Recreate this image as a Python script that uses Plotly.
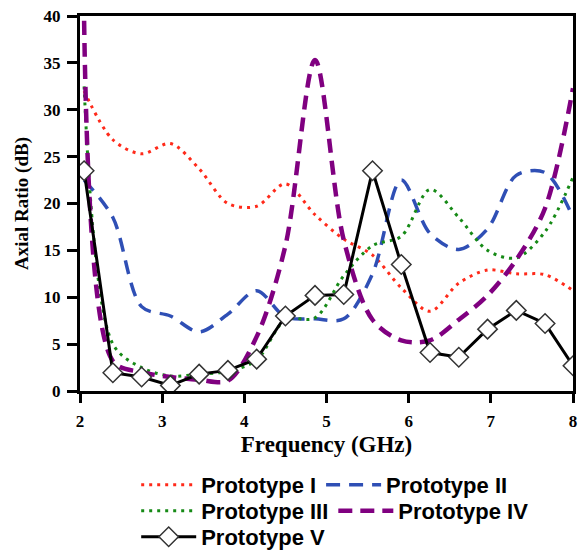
import plotly.graph_objects as go

freq = [2.05, 2.40, 2.75, 3.10, 3.45, 3.80, 4.15, 4.50, 4.86, 5.21,
        5.56, 5.91, 6.26, 6.61, 6.96, 7.31, 7.66, 8.00]

proto_1 = [32.0, 26.8, 25.3, 26.4, 23.7, 20.0, 19.7, 22.1, 18.8, 16.2,
           14.5, 11.0, 8.5, 11.5, 12.9, 12.5, 12.4, 10.7]
proto_2 = [22.5, 18.5, 9.0, 8.0, 6.3, 8.2, 10.7, 7.9, 7.7, 7.7,
           12.5, 22.5, 16.8, 15.1, 17.3, 23.0, 23.3, 18.5]
proto_3 = [32.5, 5.0, 2.5, 1.6, 1.8, 2.1, 3.3, 7.6, 7.8, 12.3,
           15.5, 16.5, 21.5, 18.5, 15.0, 14.2, 17.0, 22.8]
proto_4 = [39.5, 3.2, 2.0, 1.5, 1.2, 1.1, 5.8, 15.5, 35.3, 16.1,
           7.6, 5.4, 5.4, 7.6, 10.2, 14.0, 19.5, 32.3]
proto_5 = [23.5, 1.95, 1.5, 0.6, 1.8, 2.2, 3.4, 8.0, 10.2, 10.3,
           23.5, 13.5, 4.1, 3.6, 6.6, 8.6, 7.2, 2.7]

names = ["Prototype I", "Prototype II", "Prototype III", "Prototype IV", "Prototype V"]

fig = go.Figure()
fig.add_trace(go.Scatter(x=freq, y=proto_1, name=names[0], mode="lines", legend="legend",
                         line=dict(color="#FF2A1A", width=3, dash="3px,5px", shape="spline", smoothing=0.9)))
fig.add_trace(go.Scatter(x=freq, y=proto_2, name=names[1], mode="lines", legend="legend",
                         line=dict(color="#2F4FB5", width=3.5, dash="14px,9px", shape="spline", smoothing=0.9)))
fig.add_trace(go.Scatter(x=freq, y=proto_3, name=names[2], mode="lines", legend="legend2",
                         line=dict(color="#168A16", width=3, dash="3px,5px", shape="spline", smoothing=0.9)))
fig.add_trace(go.Scatter(x=freq, y=proto_4, name=names[3], mode="lines", legend="legend2",
                         line=dict(color="#800080", width=4.5, dash="14px,8px", shape="spline", smoothing=0.9)))
fig.add_trace(go.Scatter(x=freq, y=proto_5, name=names[4], mode="lines+markers", legend="legend3",
                         line=dict(color="black", width=3),
                         marker=dict(symbol="diamond", size=15, color="white",
                                     line=dict(color="#333333", width=1.5))))

serif = "Liberation Serif, Times New Roman, serif"
tick_font = dict(family=serif, size=17, color="black", weight="bold")
legend_font = dict(family="Liberation Sans, Arial, sans-serif", size=22, color="black", weight="bold")

def leg(y):
    return dict(orientation="h", xref="container", yref="container",
                x=0.234, xanchor="left", y=y, yanchor="middle",
                font=legend_font, bgcolor="rgba(0,0,0,0)", itemwidth=55,
                tracegroupgap=0)

fig.update_layout(
    width=582, height=556,
    margin=dict(l=80, r=9, t=16, b=165, autoexpand=False),
    plot_bgcolor="white", paper_bgcolor="white",
    showlegend=True,
    legend=leg(1 - 485 / 556),
    legend2=leg(1 - 511 / 556),
    legend3=leg(1 - 537 / 556),
    xaxis=dict(range=[2, 8], dtick=1, showgrid=False, zeroline=False, automargin=False,
               showline=True, linecolor="black", linewidth=3, mirror=True,
               ticks="outside", ticklen=9, tickwidth=3, tickcolor="black",
               tickfont=tick_font, ticklabelstandoff=4,
               title=dict(text="Frequency (GHz)", standoff=6,
                          font=dict(family=serif, size=23, color="black", weight="bold"))),
    yaxis=dict(range=[0, 40], dtick=5, showgrid=False, zeroline=False, automargin=False,
               showline=True, linecolor="black", linewidth=3, mirror=True,
               ticks="outside", ticklen=10, tickwidth=3, tickcolor="black",
               tickfont=tick_font, ticklabelstandoff=3,
               title=dict(text="Axial Ratio (dB)", standoff=10,
                          font=dict(family=serif, size=19, color="black", weight="bold"))),
)

fig.write_html("out.html")
